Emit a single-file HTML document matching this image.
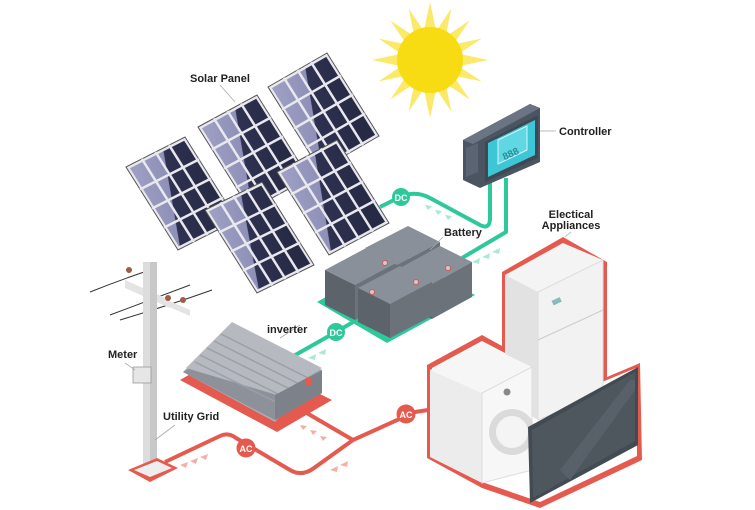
<!DOCTYPE html>
<html><head><style>
html,body{margin:0;padding:0;background:#fff;}
svg{display:block;}
text{font-family:"Liberation Sans",sans-serif;font-size:11px;fill:#222;}
</style></head><body>
<svg width="755" height="510" viewBox="0 0 755 510" xmlns="http://www.w3.org/2000/svg">
<defs>
<linearGradient id="pg" x1="0" y1="0" x2="1" y2="0.6">
<stop offset="0" stop-color="#9fa0c4"/><stop offset="0.45" stop-color="#8f90b8"/><stop offset="0.46" stop-color="#2e3150"/><stop offset="1" stop-color="#272a45"/>
</linearGradient>
<g id="panel">
<rect x="0" y="0" width="1" height="1" fill="#e8e8ee" stroke="#555" stroke-width="1" vector-effect="non-scaling-stroke"/>
<rect x="0.04" y="0.03" width="0.92" height="0.94" fill="url(#pg)"/>
<g stroke="#e8e8ee" stroke-width="2.5" vector-effect="non-scaling-stroke">
<line x1="0.27" y1="0" x2="0.27" y2="1" vector-effect="non-scaling-stroke"/>
<line x1="0.5" y1="0" x2="0.5" y2="1" vector-effect="non-scaling-stroke"/>
<line x1="0.73" y1="0" x2="0.73" y2="1" vector-effect="non-scaling-stroke"/>
<line x1="0" y1="0.27" x2="1" y2="0.27" vector-effect="non-scaling-stroke"/>
<line x1="0" y1="0.5" x2="1" y2="0.5" vector-effect="non-scaling-stroke"/>
<line x1="0" y1="0.73" x2="1" y2="0.73" vector-effect="non-scaling-stroke"/>
</g>
</g>
</defs>

<!-- Sun -->
<g transform="translate(430,60)">
<g fill="#fbe96a">
<polygon points="0,-58 6,-30 -6,-30"/><polygon points="0,58 6,30 -6,30"/>
<polygon points="-58,0 -30,6 -30,-6"/><polygon points="58,0 30,6 30,-6"/>
<g transform="rotate(22.5)"><polygon points="0,-56 5,-30 -5,-30"/><polygon points="0,56 5,30 -5,30"/><polygon points="-56,0 -30,5 -30,-5"/><polygon points="56,0 30,5 30,-5"/></g>
<g transform="rotate(45)"><polygon points="0,-56 5,-30 -5,-30"/><polygon points="0,56 5,30 -5,30"/><polygon points="-56,0 -30,5 -30,-5"/><polygon points="56,0 30,5 30,-5"/></g>
<g transform="rotate(67.5)"><polygon points="0,-56 5,-30 -5,-30"/><polygon points="0,56 5,30 -5,30"/><polygon points="-56,0 -30,5 -30,-5"/><polygon points="56,0 30,5 30,-5"/></g>
</g>
<circle r="33" fill="#f8dc13"/>
</g>

<!-- Solar panels -->
<use href="#panel" transform="matrix(59,-32,52,83,198,127)"/>
<use href="#panel" transform="matrix(59,-34,52,83,268,87)"/>
<use href="#panel" transform="matrix(59,-30,52,83,126,167)"/>
<use href="#panel" transform="matrix(60,-32,52,83,277,172)"/>
<use href="#panel" transform="matrix(57,-28,52,83,205,210)"/>

<!-- Teal wires -->
<g fill="none" stroke="#2ec99a" stroke-width="4" stroke-linejoin="round">
<path d="M380,207 L400,197 Q415,190 430,198 L480,225 Q490,230 490,218 L490,182"/>
<path d="M506,178 L506,232 L462,258"/>
<path d="M290,358 L336,332 L360,318"/>
</g>
<circle cx="401" cy="197" r="9" fill="#2ec99a"/>
<text x="401" y="201" text-anchor="middle" style="font-size:9px;fill:#fff;font-weight:bold">DC</text>
<circle cx="336" cy="332" r="9" fill="#2ec99a"/>
<text x="336" y="336" text-anchor="middle" style="font-size:9px;fill:#fff;font-weight:bold">DC</text>
<g fill="#a8e8d4"><polygon points="425,205 432,206 428,210"/><polygon points="435,210 442,211 438,215"/><polygon points="445,215 452,216 448,220"/>
<polygon points="472,262 480,258 479,264"/><polygon points="482,257 490,253 489,259"/><polygon points="492,252 500,248 499,254"/>
<polygon points="308,358 316,354 315,360"/><polygon points="318,353 326,349 325,355"/></g>

<!-- Battery platform -->
<polygon points="317,302 400,255 475,295 387,343" fill="#2ec99a"/>
<g>
<polygon points="325,270 368,247 398,262 355,285" fill="#8a9099"/>
<polygon points="325,270 355,285 355,320 325,305" fill="#5d636b"/>
<polygon points="355,285 398,262 398,297 355,320" fill="#6c727a"/>
<polygon points="365,248 408,226 440,242 397,265" fill="#8a9099"/>
<polygon points="397,265 440,242 440,277 397,300" fill="#6c727a"/>
<polygon points="400,268 440,246 472,262 432,284" fill="#8a9099"/>
<polygon points="432,284 472,262 472,297 432,319" fill="#6c727a"/>
<polygon points="400,268 432,284 432,319 400,303" fill="#5d636b"/>
<polygon points="358,288 400,266 432,282 390,304" fill="#8a9099"/>
<polygon points="358,288 390,304 390,338 358,322" fill="#5d636b"/>
<polygon points="390,304 432,282 432,316 390,338" fill="#6c727a"/>
<g fill="#c9ccd0" stroke="#d55" stroke-width="1"><circle cx="372" cy="292" r="2.5"/><circle cx="416" cy="282" r="2.5"/><circle cx="448" cy="268" r="2.5"/><circle cx="385" cy="263" r="2.5"/></g>
</g>

<!-- Controller -->
<polygon points="463,140 530,104 540,108 540,162 480,188 463,180" fill="#4b5562"/>
<polygon points="463,140 530,104 540,108 473,144" fill="#6a7482"/>
<polygon points="485,142 538,115 538,158 485,182" fill="#3f4955"/>
<polygon points="488,143 535,120 535,155 488,177" fill="#3cc6d6"/>
<polygon points="498,140 527,126 527,150 498,164" fill="#5fd8e4" stroke="#d8f6fa" stroke-width="1"/>
<text x="500" y="156" transform="rotate(-25 512 148)" style="font-size:10px;fill:#2a8e9c;font-weight:bold">888</text>
<polygon points="466,148 478,143 478,172 466,177" fill="#5a6472"/>

<!-- Pole -->
<g>
<path d="M90,292 Q120,280 150,270" stroke="#333" fill="none"/>
<path d="M110,315 Q150,300 190,285" stroke="#333" fill="none"/>
<path d="M120,320 Q170,305 212,290" stroke="#333" fill="none"/>
<polygon points="125,280 170,300 170,308 125,288" fill="#e4e4e4"/>
<polygon points="160,297 190,310 190,316 160,303" fill="#e4e4e4"/>
<rect x="143" y="262" width="14" height="206" fill="#ddd"/>
<rect x="150" y="262" width="7" height="206" fill="#c8c8c8"/>
<circle cx="129" cy="270" r="3" fill="#a25a4a"/><circle cx="168" cy="298" r="3" fill="#a25a4a"/><circle cx="183" cy="300" r="3" fill="#a25a4a"/>
<rect x="133" y="367" width="18" height="16" fill="#e6e6e6" stroke="#999" stroke-width="0.8"/>
</g>

<!-- Red wires -->
<g fill="none" stroke="#e55a4e" stroke-width="4" stroke-linejoin="round">
<path d="M165,462 L220,436 Q228,432 236,438 L290,470 Q302,477 314,468 L353,440 L415,412 L428,410"/>
<path d="M305,412 L353,440"/>
</g>
<polygon points="128,470 157,458 178,468 150,482" fill="#e55a4e"/>
<polygon points="134,470 157,461 172,468 150,477" fill="#eee"/>
<circle cx="246" cy="448" r="9.5" fill="#e55a4e"/>
<text x="246" y="452" text-anchor="middle" style="font-size:9px;fill:#fff;font-weight:bold">AC</text>
<circle cx="406" cy="414" r="9.5" fill="#e55a4e"/>
<text x="406" y="418" text-anchor="middle" style="font-size:9px;fill:#fff;font-weight:bold">AC</text>
<g fill="#f4b0a8"><polygon points="180,465 188,462 186,468"/><polygon points="190,461 198,458 196,464"/><polygon points="200,457 208,454 206,460"/>
<polygon points="300,425 307,426 303,430"/><polygon points="310,430 317,431 313,435"/><polygon points="320,436 327,437 323,441"/>
<polygon points="330,470 338,466 337,472"/><polygon points="340,465 348,461 347,467"/></g>

<!-- Inverter -->
<polygon points="180,380 232,350 332,400 277,432" fill="#e55a4e"/>
<polygon points="183,372 230,325 322,370 275,422" fill="#a8acb3"/>
<polygon points="183,372 230,347 322,393 275,420" fill="#8d9199"/>
<polygon points="186,368 232,322 322,368 277,395" fill="#b6bac0"/>
<g stroke="#9aa0a7" stroke-width="1.5">
<line x1="195" y1="362" x2="280" y2="404"/><line x1="200" y1="355" x2="290" y2="400"/><line x1="207" y1="348" x2="298" y2="393"/><line x1="214" y1="341" x2="305" y2="387"/><line x1="221" y1="334" x2="312" y2="380"/>
</g>
<polygon points="275,395 322,370 322,393 275,420" fill="#7d8189"/>
<rect x="306" y="378" width="5" height="8" fill="#e55a4e"/>

<!-- Appliances outline -->
<polygon points="427,365 482,335 502,346 502,272 563,237 607,262 607,377 640,363 642,460 540,508 482,488 427,458" fill="#e55a4e"/>
<polygon points="432,368 482,341 505,353 505,277 563,243 602,265 602,382 636,368 637,456 540,502 482,482 432,455" fill="#fff"/>
<polygon points="505,275 563,243 603,260 538,292" fill="#f4f4f4"/>
<polygon points="505,275 538,292 538,420 505,400" fill="#e2e2e2"/>
<polygon points="538,292 603,260 603,393 538,420" fill="#f2f2f2" stroke="#ddd"/>
<line x1="538" y1="340" x2="603" y2="310" stroke="#ccc"/>
<rect x="552" y="299" width="9" height="5" fill="#8bb" transform="rotate(-25 556 301)"/>
<polygon points="430,370 482,343 532,367 482,393" fill="#f6f6f6"/>
<polygon points="430,370 482,393 482,483 430,457" fill="#ececec"/>
<polygon points="482,393 532,367 532,470 482,483" fill="#f7f7f7" stroke="#ddd"/>
<circle cx="512" cy="432" r="23" fill="#dadada"/>
<circle cx="512" cy="432" r="16" fill="#f4f4f4"/>
<circle cx="507" cy="392" r="3.5" fill="#888"/>
<polygon points="528,427 638,367 638,445 530,503" fill="#424a52"/>
<polygon points="532,430 635,372 635,441 533,498" fill="#4e565e"/>
<polygon points="560,470 630,380 635,380 635,390 570,480" fill="#58606a"/>

<!-- leader lines -->
<g stroke="#aaa" stroke-width="0.8">
<line x1="220" y1="85" x2="235" y2="102"/><line x1="540" y1="131" x2="556" y2="131"/>
<line x1="430" y1="250" x2="443" y2="237"/><line x1="565" y1="237" x2="571" y2="232"/>
<line x1="280" y1="338" x2="300" y2="325"/><line x1="125" y1="363" x2="135" y2="370"/>
<line x1="155" y1="440" x2="175" y2="425"/>
</g>
<g style="font-weight:bold">
<text x="190" y="82">Solar Panel</text>
<text x="559" y="135">Controller</text>
<text x="444" y="236">Battery</text>
<text x="571" y="218" text-anchor="middle">Electical</text>
<text x="571" y="229" text-anchor="middle">Appliances</text>
<text x="267" y="333">inverter</text>
<text x="108" y="358">Meter</text>
<text x="163" y="420">Utility Grid</text>
</g>
</svg>
</body></html>
